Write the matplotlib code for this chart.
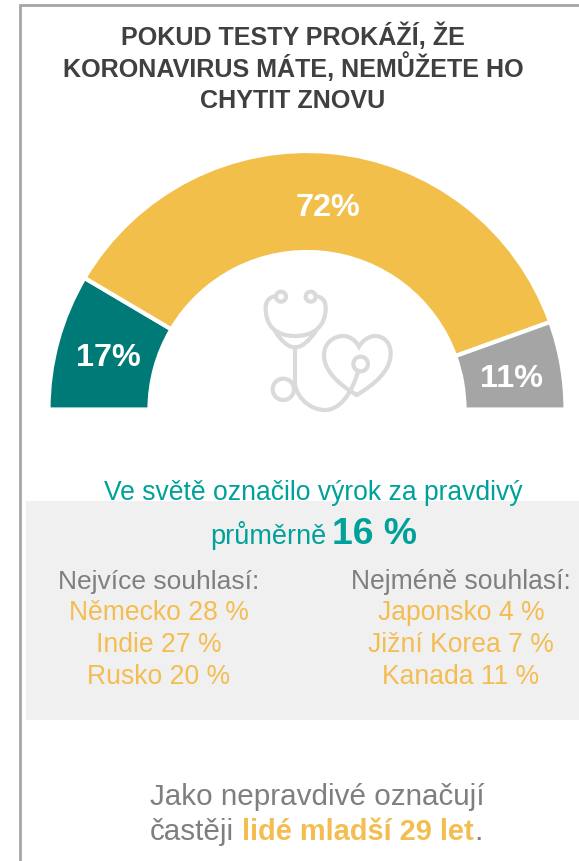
import matplotlib
matplotlib.use("Agg")
import matplotlib.pyplot as plt
from matplotlib.patches import Rectangle, Circle, PathPatch
from matplotlib.path import Path

plt.rcParams['font.family'] = ['Liberation Sans', 'DejaVu Sans']

W, H = 579, 861

title_lines = ["POKUD TESTY PROKÁŽÍ, ŽE", "KORONAVIRUS MÁTE, NEMŮŽETE HO", "CHYTIT ZNOVU"]
gauge_values = [17, 72, 11]
gauge_labels = ["17%", "72%", "11%"]
gauge_colors = ["#007A77", "#F2BF4A", "#A5A5A5"]
most_agree = ["Německo 28 %", "Indie 27 %", "Rusko 20 %"]
least_agree = ["Japonsko 4 %", "Jižní Korea 7 %", "Kanada 11 %"]

TEAL_TXT = "#00A19A"
YEL_TXT = "#F4BD52"
GREY_TXT = "#7F7F7F"
ICON = "#DADADA"


def Y(py):
    return H - py


def icon_x(zx):
    return 240 + zx / 3


def icon_y(zy):
    return Y(270 + zy / 3)


def curve(ax, pts):
    # cubic beziers given in zoom-crop coordinates: start, then 3 points per segment
    verts = [(icon_x(x), icon_y(y)) for x, y in pts]
    codes = [Path.MOVETO] + [Path.CURVE4] * (len(verts) - 1)
    ax.add_patch(PathPatch(Path(verts, codes), fc="none", ec=ICON, lw=3, capstyle="round"))


def ring(ax, x, y, r):
    ax.add_patch(Circle((icon_x(x), icon_y(y)), r / 3, fc="none", ec=ICON, lw=3))


fig = plt.figure(figsize=(W / 100, H / 100), dpi=100)
ax = fig.add_axes([0, 0, 1, 1])

# gauge, the bottom half of the pie stays hidden
wedges, _ = ax.pie(gauge_values + [sum(gauge_values)], colors=gauge_colors + ["none"],
                   startangle=180, counterclock=False, center=(307, Y(409.5)), radius=258.5,
                   wedgeprops={"width": 101, "edgecolor": "white", "linewidth": 3})
wedges[-1].set_visible(False)
ax.set_xlim(0, W)
ax.set_ylim(0, H)
ax.set_aspect("equal")
ax.axis("off")

# border
ax.plot([20, 20, W], [0, Y(5), Y(5)], color="#A6A6A6", lw=2, solid_joinstyle="miter")

# grey box
ax.add_patch(Rectangle((26, Y(720)), W - 26, 219, fc="#F0F0F0", ec="none", zorder=0.5))

for line, py in zip(title_lines, [36, 67, 101]):
    ax.text(293, Y(py), line, ha="center", va="center", fontsize=18.1, fontweight="bold", color="#404040")

for lab, (px, py) in zip(gauge_labels, [(108, 358), (328, 208), (512, 379)]):
    ax.text(px, Y(py), lab, ha="center", va="center", fontsize=23.3, fontweight="bold", color="white")

# stethoscope
ring(ax, 123, 80, 15)
ring(ax, 212, 80, 15)
curve(ax, [(108, 78), (85, 82), (77, 95), (77, 115), (77, 165), (105, 198), (165, 198),
           (225, 198), (257, 165), (257, 115), (257, 95), (250, 82), (227, 78)])
curve(ax, [(105, 183), (125, 215), (145, 232), (165, 232), (185, 232), (205, 215), (228, 183)])
curve(ax, [(165, 232), (165, 270), (165, 310), (165, 345), (175, 390), (215, 420), (255, 420),
           (300, 420), (335, 370), (354, 305)])
ring(ax, 362, 282, 22)
ring(ax, 130, 358, 32)
curve(ax, [(350, 375), (300, 345), (252, 305), (252, 255), (252, 220), (280, 198), (310, 198),
           (330, 198), (348, 212), (357, 230), (368, 210), (388, 198), (405, 198),
           (435, 198), (452, 222), (452, 250), (452, 305), (400, 345), (350, 375)])

ax.text(313.5, Y(493), "Ve světě označilo výrok za pravdivý", ha="center", va="center",
        fontsize=19.1, color=TEAL_TXT)
ax.text(326, Y(536), "průměrně", ha="right", va="center", fontsize=19.5, color=TEAL_TXT)
ax.text(332, Y(534), "16 %", ha="left", va="center", fontsize=26.8, fontweight="bold", color=TEAL_TXT)

ax.text(158.5, Y(582), "Nejvíce souhlasí:", ha="center", va="center", fontsize=19, color=GREY_TXT)
ax.text(461, Y(582), "Nejméně souhlasí:", ha="center", va="center", fontsize=19.1, color=GREY_TXT)
for line, py in zip(most_agree, [613, 645, 677]):
    ax.text(158.5, Y(py), line, ha="center", va="center", fontsize=19.1, color=YEL_TXT)
for line, py in zip(least_agree, [613, 645, 677]):
    ax.text(461, Y(py), line, ha="center", va="center", fontsize=19.1, color=YEL_TXT)

ax.text(317, Y(797), "Jako nepravdivé označují", ha="center", va="center", fontsize=21.3, color=GREY_TXT)
ax.text(234, Y(832), "častěji", ha="right", va="center", fontsize=21.3, color=GREY_TXT)
ax.text(242, Y(832), "lidé mladší 29 let", ha="left", va="center", fontsize=20.9, fontweight="bold", color=YEL_TXT)
ax.text(474, Y(832), ".", ha="left", va="center", fontsize=21.3, color=GREY_TXT)

fig.savefig("out.png", dpi=100)
